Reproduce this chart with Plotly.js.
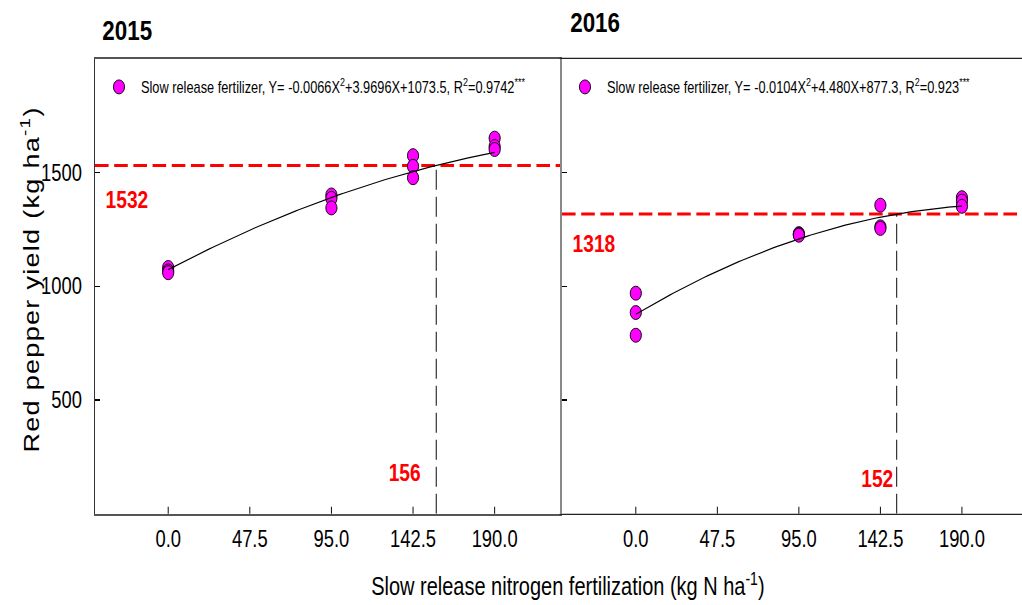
<!DOCTYPE html>
<html>
<head>
<meta charset="utf-8">
<script src="https://cdn.plot.ly/plotly-3.0.1.min.js"></script>
<style>
  html, body { margin: 0; padding: 0; background: #fff; overflow: hidden; }
  #frame { width: 1022px; height: 605px; overflow: hidden; position: relative; }
  /* the figure is laid out wide and condensed horizontally */
  #chart { width: 1278px; height: 605px; transform: scaleX(0.79969); transform-origin: 0 0; }
</style>
</head>
<body>
<div id="frame"><div id="chart"></div></div>
<script>
// Nitrogen rates (kg N/ha) and the tick labels of the rate axis
const rates = [0, 95, 142.5, 190];
const rateTicks = [0, 47.5, 95, 142.5, 190];
const rateTickText = ['0.0', '47.5', '95.0', '142.5', '190.0'];
const yieldTicks = [500, 1000, 1500];

// Red pepper yield, three replicates per rate
const yield2015 = [
  [1083, 1068, 1060],
  [1402, 1387, 1345],
  [1575, 1528, 1478],
  [1652, 1615, 1602]
];
const yield2016 = [
  [970, 885, 785],
  [1232, 1228, 1225],
  [1357, 1262, 1255],
  [1390, 1375, 1352]
];

// Quadratic fits  Y = a X^2 + b X + c
const fit2015 = [-0.0066, 3.9696, 1073.5];
const fit2016 = [-0.0104, 4.480, 877.3];

// Optimum rate and the corresponding yield
const optRate = [156, 152];
const optYield = [1532, 1318];

const legendText2015 = 'Slow release fertilizer, Y= -0.0066X<sup>2</sup>+3.9696X+1073.5, R<sup>2</sup>=0.9742<sup>***</sup>';
const legendText2016 = 'Slow release fertilizer, Y= -0.0104X<sup>2</sup>+4.480X+877.3, R<sup>2</sup>=0.923<sup>***</sup>';

const FONT = '"Liberation Sans", Arial, sans-serif';

function flatPoints(values) {
  const xs = [], ys = [];
  values.forEach((reps, i) => reps.forEach(v => { xs.push(rates[i]); ys.push(v); }));
  return { xs, ys };
}

function fitCurve(coef) {
  const xs = [], ys = [];
  for (let x = rates[0]; x <= rates[rates.length - 1] + 1e-9; x += 2) {
    xs.push(x);
    ys.push(coef[0] * x * x + coef[1] * x + coef[2]);
  }
  return { xs, ys };
}

const p15 = flatPoints(yield2015);
const p16 = flatPoints(yield2016);
const c15 = fitCurve(fit2015);
const c16 = fitCurve(fit2016);

const marker = { symbol: 'circle', size: 14, color: '#ff00ff', line: { color: '#000', width: 1 } };

const traces = [
  { x: p15.xs, y: p15.ys, type: 'scatter', mode: 'markers', marker, name: legendText2015,
    xaxis: 'x', yaxis: 'y', legend: 'legend' },
  { x: c15.xs, y: c15.ys, type: 'scatter', mode: 'lines', line: { color: '#000', width: 1.2 },
    xaxis: 'x', yaxis: 'y', showlegend: false, hoverinfo: 'skip' },
  { x: p16.xs, y: p16.ys, type: 'scatter', mode: 'markers', marker, name: legendText2016,
    xaxis: 'x2', yaxis: 'y2', legend: 'legend2' },
  { x: c16.xs, y: c16.ys, type: 'scatter', mode: 'lines', line: { color: '#000', width: 1.2 },
    xaxis: 'x2', yaxis: 'y2', showlegend: false, hoverinfo: 'skip' }
];

// positions below are given in final screen pixels of the 1022 x 605 figure
const SW = 1022, H = 605, SX = 0.79969;
const px = v => v / SW;
const py = v => 1 - v / H;
const dx = v => v / SX;

const xCommon = {
  tickmode: 'array', tickvals: rateTicks, ticktext: rateTickText,
  ticks: 'inside', ticklen: 7, tickwidth: 1.2, tickcolor: '#000',
  tickfont: { family: FONT, size: 23, color: '#000' },
  ticklabelstandoff: 4,
  showgrid: false, zeroline: false, showline: true, mirror: true, fixedrange: true
};
const yCommon = {
  range: [0, 2000], domain: [py(513.75), py(59)],
  tickmode: 'array', tickvals: yieldTicks,
  ticks: 'inside', ticklen: 6, tickwidth: 1.5, tickcolor: '#000',
  tickfont: { family: FONT, size: 23, color: '#000' },
  showgrid: false, zeroline: false, showline: true, fixedrange: true
};

const legendCommon = {
  xanchor: 'left', yanchor: 'middle', itemwidth: 45,
  bgcolor: 'rgba(0,0,0,0)', borderwidth: 0,
  font: { family: FONT, size: 16, color: '#000' }
};

const layout = {
  width: Math.round(SW / SX), height: H, autosize: false,
  margin: { l: 0, r: 0, t: 0, b: 0, autoexpand: false },
  paper_bgcolor: '#fff', plot_bgcolor: '#fff',
  showlegend: true,
  xaxis: Object.assign({}, xCommon, {
    domain: [px(95), px(562)], range: [-42.6, 229.2], anchor: 'y',
    linecolor: '#555', linewidth: 2
  }),
  yaxis: Object.assign({}, yCommon, {
    anchor: 'x', linecolor: '#333', linewidth: 1.8, ticklabelstandoff: 10
  }),
  xaxis2: Object.assign({}, xCommon, {
    domain: [px(562), 1], range: [-43, 225], anchor: 'y2',
    linecolor: '#222', linewidth: 1.2
  }),
  yaxis2: Object.assign({}, yCommon, {
    anchor: 'x2', showticklabels: false, linecolor: '#888', linewidth: 3
  }),
  legend: Object.assign({}, legendCommon, { x: px(97), y: py(87) }),
  legend2: Object.assign({}, legendCommon, { x: px(563), y: py(87) }),
  shapes: [
    { type: 'line', layer: 'below', xref: 'x domain', x0: 0, x1: 1, yref: 'y', y0: optYield[0], y1: optYield[0],
      line: { color: '#ff0000', width: 3, dash: '17px,7px' } },
    { type: 'line', layer: 'below', xref: 'x', x0: optRate[0], x1: optRate[0], yref: 'y', y0: 0, y1: optYield[0],
      line: { color: '#000', width: 1.2, dash: '20px,7px' } },
    { type: 'line', layer: 'below', xref: 'x2 domain', x0: 0, x1: 1, yref: 'y2', y0: optYield[1], y1: optYield[1],
      line: { color: '#ff0000', width: 3, dash: '17px,7px' } },
    { type: 'line', layer: 'below', xref: 'x2', x0: optRate[1], x1: optRate[1], yref: 'y2', y0: 0, y1: optYield[1],
      line: { color: '#000', width: 1.2, dash: '20px,7px' } }
  ],
  annotations: [
    // panel years
    { xref: 'paper', yref: 'paper', x: px(127), y: py(30), xanchor: 'center', yanchor: 'middle',
      text: '<b>2015</b>', showarrow: false, font: { family: FONT, size: 28, color: '#000' } },
    { xref: 'paper', yref: 'paper', x: px(595), y: py(22), xanchor: 'center', yanchor: 'middle',
      text: '<b>2016</b>', showarrow: false, font: { family: FONT, size: 28, color: '#000' } },
    // optimum yield labels
    { xref: 'x domain', yref: 'y', x: 0.02, y: optYield[0], yshift: -34, xanchor: 'left', yanchor: 'middle',
      text: '<b>' + optYield[0] + '</b>', showarrow: false, font: { family: FONT, size: 24, color: '#ff0000' } },
    { xref: 'x2 domain', yref: 'y2', x: 0.02, y: optYield[1], yshift: -29, xanchor: 'left', yanchor: 'middle',
      text: '<b>' + optYield[1] + '</b>', showarrow: false, font: { family: FONT, size: 24, color: '#ff0000' } },
    // optimum rate labels
    { xref: 'x', yref: 'y', x: optRate[0], y: 183, xshift: dx(-14), xanchor: 'right', yanchor: 'middle',
      text: '<b>' + optRate[0] + '</b>', showarrow: false, font: { family: FONT, size: 24, color: '#ff0000' } },
    { xref: 'x2', yref: 'y2', x: optRate[1], y: 157, xshift: dx(-2), xanchor: 'right', yanchor: 'middle',
      text: '<b>' + optRate[1] + '</b>', showarrow: false, font: { family: FONT, size: 24, color: '#ff0000' } },
    // axis titles
    { xref: 'paper', yref: 'paper', x: px(30), y: py(280), xanchor: 'center', yanchor: 'middle',
      textangle: -90, showarrow: false,
      text: '<span style="letter-spacing:1.3px">Red pepper yield (kg ha<sup>-1</sup>)</span>',
      font: { family: FONT, size: 27, color: '#000' } },
    { xref: 'paper', yref: 'paper', x: px(568), y: py(585), xanchor: 'center', yanchor: 'middle',
      showarrow: false,
      text: 'Slow release nitrogen fertilization (kg N ha<sup>-1</sup>)',
      font: { family: FONT, size: 25, color: '#000' } }
  ]
};

Plotly.newPlot('chart', traces, layout, { displayModeBar: false, staticPlot: true });
</script>
</body>
</html>
